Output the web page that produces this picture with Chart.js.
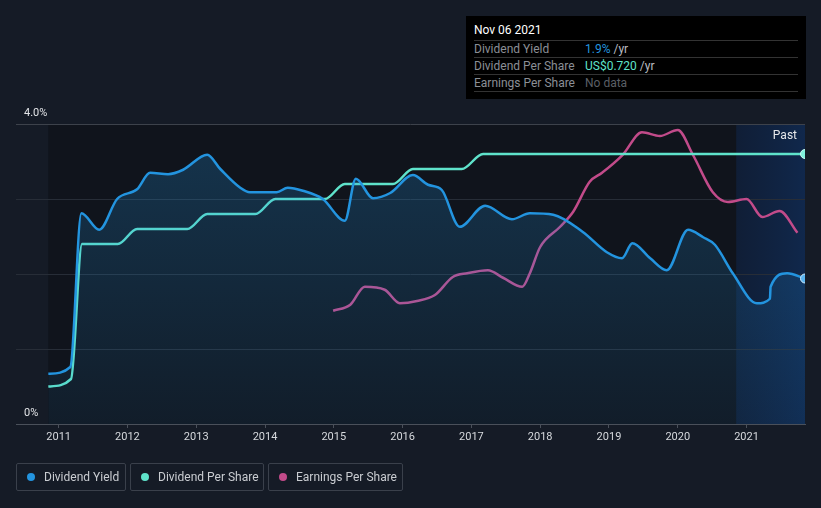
<!DOCTYPE html>
<html>
<head>
<meta charset="utf-8">
<script src="https://cdn.jsdelivr.net/npm/chart.js@4.4.0/dist/chart.umd.min.js"></script>
<style>
  html, body { margin: 0; padding: 0; background: #151b26; }
  body { width: 821px; height: 508px; position: relative; overflow: hidden; font-family: Roboto, "Noto Sans", sans-serif; }
  #wrap { position: absolute; left: 0; top: 0; width: 821px; height: 508px; }
  #tip { position: absolute; left: 466px; top: 16px; width: 340px; height: 83px; background: #000; }
  #tip .title { position: absolute; left: 8px; top: 7px; font-size: 12px; color: #fff; }
  #tip .row { position: absolute; left: 8px; width: 324px; height: 17px; border-top: 1px solid #333; font-size: 12px; line-height: 16px; }
  #tip .row .k { position: absolute; left: 0; color: #8b8f96; }
  #tip .row .v { position: absolute; left: 111px; color: #b9bcc1; }
  #tip .last { position: absolute; left: 8px; top: 75px; width: 324px; border-top: 1px solid #333; }
  .leg { position: absolute; top: 463px; height: 28px; border: 1px solid #3a404b; border-radius: 2px; box-sizing: border-box; font-size: 12px; color: #c9ccd1; line-height: 26px; }
  .leg span.dot { position: absolute; left: 10px; top: 9px; width: 8px; height: 8px; border-radius: 50%; }
  .leg span.t { position: absolute; left: 27px; }
</style>
</head>
<body>
<div id="wrap"><canvas id="chart" width="821" height="508"></canvas></div>

<div id="tip">
  <div class="title">Nov 06 2021</div>
  <div class="row" style="top:24px"><span class="k">Dividend Yield</span><span class="v"><span style="color:#2394df">1.9%</span> /yr</span></div>
  <div class="row" style="top:41px"><span class="k">Dividend Per Share</span><span class="v"><span style="color:#5fe3cb">US$0.720</span> /yr</span></div>
  <div class="row" style="top:58px"><span class="k">Earnings Per Share</span><span class="v" style="color:#5b5f66">No data</span></div>
  <div class="last"></div>
</div>

<div class="leg" style="left:16px;width:110px"><span class="dot" style="background:#2394df"></span><span class="t">Dividend Yield</span></div>
<div class="leg" style="left:130px;width:134px"><span class="dot" style="background:#5fe3cb"></span><span class="t">Dividend Per Share</span></div>
<div class="leg" style="left:268px;width:135px"><span class="dot" style="background:#c24b8a"></span><span class="t">Earnings Per Share</span></div>

<script>
// Dividend yield (%)
const yieldYears = [2010.85, 2011.17, 2011.33, 2011.59, 2011.85, 2012.14, 2012.33, 2012.59, 2012.81, 2013.16,
  2013.35, 2013.64, 2013.78, 2014.17, 2014.33, 2014.55, 2014.84, 2015.16, 2015.32, 2015.57,
  2015.82, 2016.15, 2016.37, 2016.57, 2016.83, 2017.20, 2017.59, 2017.85, 2018.19, 2018.62,
  2018.97, 2019.19, 2019.34, 2019.60, 2019.84, 2020.15, 2020.37, 2020.54, 2020.80, 2021.15,
  2021.34, 2021.35, 2021.59, 2021.85];
const yieldValues = [0.67, 0.76, 2.81, 2.59, 3.00, 3.13, 3.35, 3.33, 3.39, 3.59,
  3.40, 3.15, 3.09, 3.09, 3.15, 3.11, 3.00, 2.71, 3.27, 3.01,
  3.08, 3.32, 3.19, 3.12, 2.63, 2.91, 2.73, 2.81, 2.79, 2.56,
  2.29, 2.21, 2.41, 2.21, 2.05, 2.59, 2.49, 2.39, 2.01, 1.61,
  1.67, 1.83, 2.01, 1.94];

// Dividend per share (US$)
const dpsYears = [2010.85, 2011.18, 2011.34, 2011.86, 2012.14, 2012.87, 2013.16, 2013.86, 2014.15, 2014.87,
  2015.16, 2015.86, 2016.15, 2016.86, 2017.17, 2021.85];
const dpsValues = [0.10, 0.12, 0.48, 0.48, 0.52, 0.52, 0.56, 0.56, 0.60, 0.60,
  0.64, 0.64, 0.68, 0.68, 0.72, 0.72];

// Earnings per share (US$)
const epsYears = [2014.99, 2015.24, 2015.45, 2015.74, 2015.96, 2016.21, 2016.47, 2016.73, 2016.94, 2017.24,
  2017.46, 2017.74, 2017.85, 2018.00, 2018.29, 2018.48, 2018.72, 2018.90, 2019.20, 2019.48,
  2019.74, 2020.00, 2020.22, 2020.51, 2020.73, 2021.00, 2021.23, 2021.48, 2021.74];
const epsValues = [1.51, 1.59, 1.83, 1.79, 1.61, 1.64, 1.72, 1.96, 2.01, 2.05,
  1.95, 1.83, 2.01, 2.36, 2.63, 2.83, 3.23, 3.35, 3.59, 3.89,
  3.84, 3.92, 3.59, 3.09, 2.96, 3.00, 2.76, 2.84, 2.55];

const yearTicks = [2011, 2012, 2013, 2014, 2015, 2016, 2017, 2018, 2019, 2020, 2021];
const yieldTicks = [0, 1, 2, 3, 4];
const yieldTickLabels = ['0%', '', '', '', '4.0%'];
const pastStart = 2020.85;

const toPoints = (xs, ys) => xs.map((x, i) => ({ x: x, y: ys[i] }));
const lastOnly = (r) => (ctx) => ctx.dataIndex === ctx.dataset.data.length - 1 ? r : 0;

// backgrounds behind the grid: dark plot zone, "Past" zone and label
const backdrop = {
    id: 'backdrop',
    beforeDraw(chart) {
        const { ctx, chartArea: a, scales } = chart;
        const x0 = scales.x.getPixelForValue(yieldYears[0]);
        const xp = scales.x.getPixelForValue(pastStart);
        ctx.save();
        ctx.fillStyle = '#10141c';
        ctx.fillRect(x0, a.top, a.right - x0, a.bottom - a.top);
        const g = ctx.createLinearGradient(xp, 0, a.right, 0);
        g.addColorStop(0, 'rgba(16,40,80,0.5)');
        g.addColorStop(1, 'rgba(16,48,96,0.7)');
        ctx.fillStyle = g;
        ctx.fillRect(xp, a.top, a.right - xp, a.bottom - a.top);
        ctx.fillStyle = '#e6e8eb';
        ctx.font = '12px Roboto';
        ctx.textAlign = 'right';
        ctx.textBaseline = 'middle';
        ctx.fillText('Past', a.right - 8, a.top + 12);
        ctx.restore();
    }
};

const ctx = document.getElementById('chart').getContext('2d');
new Chart(ctx, {
    type: 'line',
    data: {
        datasets: [{
            label: 'Dividend Yield',
            data: toPoints(yieldYears, yieldValues),
            yAxisID: 'y',
            borderColor: '#2394df',
            borderWidth: 2.5,
            fill: 'origin',
            backgroundColor: (c) => {
                const a = c.chart.chartArea;
                if (!a) return 'rgba(35,148,223,0.15)';
                const g = c.chart.ctx.createLinearGradient(0, a.top, 0, a.bottom);
                g.addColorStop(0, 'rgba(35,148,223,0.26)');
                g.addColorStop(1, 'rgba(35,148,223,0.07)');
                return g;
            },
            cubicInterpolationMode: 'monotone',
            pointRadius: lastOnly(4.5),
            pointBackgroundColor: '#59b3ee',
            pointBorderColor: '#cfe8fa',
            pointBorderWidth: 1
        }, {
            label: 'Dividend Per Share',
            data: toPoints(dpsYears, dpsValues),
            yAxisID: 'yDps',
            borderColor: '#5fe3cb',
            borderWidth: 2.5,
            fill: false,
            cubicInterpolationMode: 'monotone',
            pointRadius: lastOnly(4.5),
            pointBackgroundColor: '#7ff0dc',
            pointBorderColor: '#c9fbf1',
            pointBorderWidth: 1
        }, {
            label: 'Earnings Per Share',
            data: toPoints(epsYears, epsValues),
            yAxisID: 'yEps',
            borderColor: '#c24b8a',
            borderWidth: 2.5,
            fill: false,
            cubicInterpolationMode: 'monotone',
            pointRadius: 0
        }]
    },
    options: {
        responsive: false,
        animation: false,
        events: [],
        layout: { padding: { left: 16, right: 16, top: 124, bottom: 54 } },
        plugins: { legend: { display: false }, tooltip: { enabled: false } },
        scales: {
            x: {
                type: 'linear',
                min: 2010.38,
                max: 2021.85,
                afterBuildTicks: (s) => { s.ticks = yearTicks.map(v => ({ value: v })); },
                afterFit: (s) => { s.height = 30; },
                grid: { display: true, drawOnChartArea: false, drawTicks: true, tickLength: 4, color: '#4a505a' },
                border: { display: true, color: '#4a505a', width: 1 },
                ticks: {
                    color: '#d6d9dd',
                    font: { family: 'Roboto', size: 11 },
                    padding: 3,
                    maxRotation: 0,
                    autoSkip: false,
                    callback: (v) => String(v)
                }
            },
            y: {
                min: 0,
                max: 4,
                afterBuildTicks: (s) => { s.ticks = yieldTicks.map(v => ({ value: v })); },
                afterFit: (s) => { s.width = 0; },
                grid: {
                    drawTicks: false,
                    color: (c) => c.tick && c.tick.value === 4 ? '#3d424b' : '#272d37'
                },
                border: { display: false },
                ticks: {
                    mirror: true,
                    padding: 8,
                    labelOffset: -11,
                    color: '#e2e4e7',
                    font: { family: 'Roboto', size: 11 },
                    callback: (v) => yieldTickLabels[yieldTicks.indexOf(v)]
                }
            },
            yDps: { display: false, min: 0, max: 0.8 },
            yEps: { display: false, min: 0, max: 4 }
        }
    },
    plugins: [backdrop]
});
</script>
</body>
</html>
